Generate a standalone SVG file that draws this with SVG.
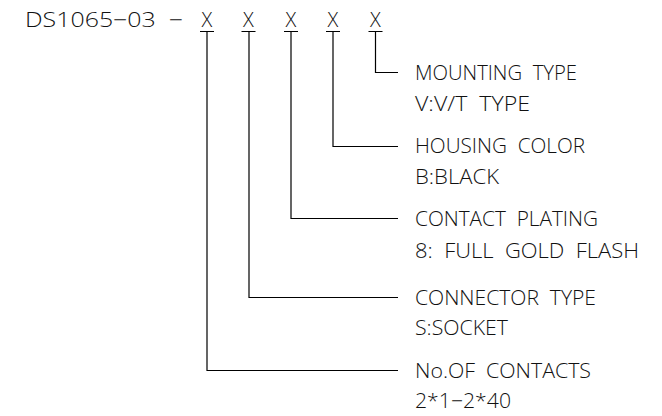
<svg xmlns="http://www.w3.org/2000/svg" width="662" height="416" viewBox="0 0 662 416">
<style>
  text { font-family: "Open Sans", "Liberation Sans", Arial, sans-serif; font-weight: 300; font-size: 20px; fill: #111; white-space: pre; }
  .x { text-anchor: middle; }
  .ln { stroke: #000; stroke-width: 1.2; fill: none; }
</style>
<rect width="662" height="416" fill="#fff"/>
<g id="partno">
  <text x="25" y="27" textLength="158" lengthAdjust="spacingAndGlyphs">DS1065−03  −</text>
  <text class="x" x="207" y="27">X</text>
  <text class="x" x="248.5" y="27">X</text>
  <text class="x" x="291" y="27">X</text>
  <text class="x" x="333" y="27">X</text>
  <text class="x" x="375.5" y="27">X</text>
</g>
<g id="connectors">
  <path class="ln" d="M200 31.5H214 M241.5 31.5H255.5 M284 31.5H298 M326 31.5H340 M368.5 31.5H382.5"/>
  <path class="ln" d="M375.5 31.5V72.5H398"/>
  <path class="ln" d="M333 31.5V146.5H398"/>
  <path class="ln" d="M291 31.5V218.5H398"/>
  <path class="ln" d="M249 31.5V297.5H398"/>
  <path class="ln" d="M207 31.5V370.5H398"/>
</g>
<g id="mounting">
  <text x="415" y="80" textLength="162" lengthAdjust="spacingAndGlyphs">MOUNTING  TYPE</text>
  <text x="415" y="111" textLength="115" lengthAdjust="spacingAndGlyphs">V:V/T  TYPE</text>
</g>
<g id="housing">
  <text x="415" y="153" textLength="170" lengthAdjust="spacingAndGlyphs">HOUSING  COLOR</text>
  <text x="415" y="184" textLength="84" lengthAdjust="spacingAndGlyphs">B:BLACK</text>
</g>
<g id="plating">
  <text x="415" y="226" textLength="183" lengthAdjust="spacingAndGlyphs">CONTACT  PLATING</text>
  <text x="415" y="258" textLength="224" lengthAdjust="spacingAndGlyphs">8:  FULL  GOLD  FLASH</text>
</g>
<g id="conntype">
  <text x="415" y="305" textLength="181" lengthAdjust="spacingAndGlyphs">CONNECTOR  TYPE</text>
  <text x="415" y="335" textLength="93" lengthAdjust="spacingAndGlyphs">S:SOCKET</text>
</g>
<g id="contacts">
  <text x="415" y="378" textLength="176" lengthAdjust="spacingAndGlyphs">No.OF  CONTACTS</text>
  <text x="415" y="408" textLength="96" lengthAdjust="spacingAndGlyphs">2*1−2*40</text>
</g>
</svg>
